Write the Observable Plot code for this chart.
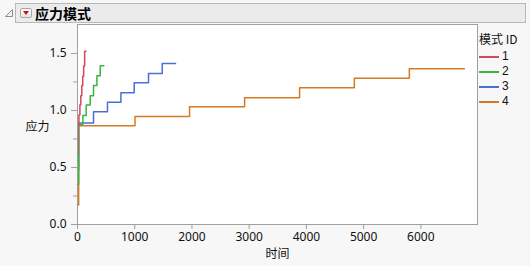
<!DOCTYPE html>
<html><head><meta charset="utf-8">
<script src="https://cdn.jsdelivr.net/npm/d3@7"></script>
<script src="https://cdn.jsdelivr.net/npm/@observablehq/plot@0.6"></script>
<style>
html,body{margin:0;padding:0;background:#f7f7f7;}
#wrap{position:relative;width:530px;height:266px;overflow:hidden;font-family:"Noto Sans","Noto Sans CJK SC",sans-serif;color:#111;}
#chart{position:absolute;left:0;top:0;}
#hdr{position:absolute;left:15px;top:3px;width:511px;height:20px;background:#ebebeb;border:1px solid #b8b8b8;box-sizing:border-box;}
#ttl{position:absolute;left:35px;top:3px;height:20px;line-height:20px;font-size:14px;font-weight:bold;font-family:"Noto Sans CJK SC",sans-serif;color:#000;}
#btn{position:absolute;left:20px;top:8px;width:12px;height:10px;box-sizing:border-box;border:1px solid #a8a8a8;border-radius:2px;background:linear-gradient(#ffffff,#e4e4e4);}
#btn:after{content:"";position:absolute;left:2px;top:2px;border-left:3px solid transparent;border-right:3px solid transparent;border-top:4px solid #d01010;}
#disc{position:absolute;left:4px;top:8px;}
#legend{position:absolute;left:479px;top:31px;font-size:12px;font-family:"Noto Sans CJK SC",sans-serif;}
#legend .t{height:16px;line-height:16px;margin-bottom:2px;}
#legend .r{position:relative;height:15px;}
#legend .r span.l{position:absolute;left:0;top:7px;width:20px;height:1.5px;}
#legend .r span.n{position:absolute;left:23px;top:1px;font-family:"Liberation Sans",sans-serif;font-size:12px;line-height:13px;}
svg g[aria-label="x-axis tick"] path, svg g[aria-label="y-axis tick"] path{stroke:#a0a0a0;}
</style>
</head><body>
<div id="wrap">
  <div id="chart"></div>
  <div id="hdr"></div>
  <svg id="disc" width="10" height="10"><polygon points="8.5,1.5 8.5,8.5 1.5,8.5" fill="#f4f4f4" stroke="#8a8a8a" stroke-width="1"/></svg>
  <div id="btn"></div>
  <div id="ttl">应力模式</div>
  <div id="legend"></div>
</div>
<script>
// ---- data ----
const seriesIds = ["1", "2", "3", "4"];
const seriesColors = ["#d4485a", "#3cb43c", "#4a70d8", "#d47a26"];

const time1   = [0, 8, 25, 42, 58, 75, 92, 108, 125, 147];
const stress1 = [0.62, 0.88, 0.96, 1.05, 1.13, 1.22, 1.30, 1.39, 1.52, 1.52];

const time2   = [0, 20, 94, 152, 222, 280, 339, 397, 461];
const stress2 = [0.35, 0.877, 0.956, 1.047, 1.129, 1.219, 1.304, 1.392, 1.392];

const time3   = [0, 20, 280, 524, 759, 991, 1241, 1481, 1713];
const stress3 = [0.48, 0.89, 0.989, 1.073, 1.155, 1.243, 1.325, 1.412, 1.412];

const time4   = [0, 20, 1005, 1958, 2920, 3881, 4838, 5799, 6761];
const stress4 = [0.17, 0.866, 0.947, 1.032, 1.111, 1.199, 1.283, 1.366, 1.366];

const xTicks = [0, 1000, 2000, 3000, 4000, 5000, 6000];
const yTicks = [0, 0.5, 1.0, 1.5];
const yMinorTicks = [0.25, 0.75, 1.25];
const xLabel = "时间";
const yLabel = "应力";
const legendTitle = "模式 ID";

// ---- build table ----
const times = [time1, time2, time3, time4];
const stresses = [stress1, stress2, stress3, stress4];
const rows = [];
// draw 4 first so 1 ends on top
for (let k = seriesIds.length - 1; k >= 0; k--) {
  times[k].forEach((t, i) => rows.push({id: seriesIds[k], t, s: stresses[k][i]}));
}

const font = '"Noto Sans","Noto Sans CJK SC",sans-serif';
const chart = Plot.plot({
  width: 530, height: 266,
  marginLeft: 77, marginRight: 53, marginTop: 24, marginBottom: 42,
  style: {fontSize: "12px", fontFamily: font, background: "transparent", color: "#111", overflow: "visible"},
  x: {domain: [0, 6990]},
  y: {domain: [0, 1.754]},
  color: {domain: seriesIds, range: seriesColors},
  marks: [
    Plot.frame({fill: "white", stroke: "none"}),
    Plot.line(rows, {x: "t", y: "s", z: "id", stroke: "id", curve: "step-after", strokeWidth: 1.5}),
    Plot.frame({stroke: "#a0a0a0"}),
    Plot.axisX({ticks: xTicks, tickSize: 5, tickPadding: 3, tickFormat: d3.format("d"), label: null, stroke: "#a0a0a0", fontSize: 12}),
    Plot.axisY({ticks: yTicks, tickSize: 6, tickPadding: 5, tickFormat: d3.format(".1f"), label: null, stroke: "#a0a0a0", fontSize: 12}),
    Plot.axisY({ticks: yMinorTicks, tickSize: 4, tickFormat: () => "", label: null, stroke: "#a0a0a0"}),
    Plot.text([yLabel], {frameAnchor: "left", dx: -52, dy: 3, fontSize: 12, fontFamily: '"Noto Sans CJK SC",sans-serif', fill: "#111"}),
    Plot.text([xLabel], {frameAnchor: "bottom", dy: 33, fontSize: 12, fontFamily: '"Noto Sans CJK SC",sans-serif', fill: "#111"})
  ]
});
document.getElementById("chart").appendChild(chart);

// ---- legend ----
const lg = document.getElementById("legend");
const t = document.createElement("div"); t.className = "t"; t.textContent = legendTitle; lg.appendChild(t);
seriesIds.forEach((id, i) => {
  const r = document.createElement("div"); r.className = "r";
  const l = document.createElement("span"); l.className = "l"; l.style.background = seriesColors[i];
  const n = document.createElement("span"); n.className = "n"; n.textContent = id;
  r.appendChild(l); r.appendChild(n); lg.appendChild(r);
});
</script>
</body></html>
